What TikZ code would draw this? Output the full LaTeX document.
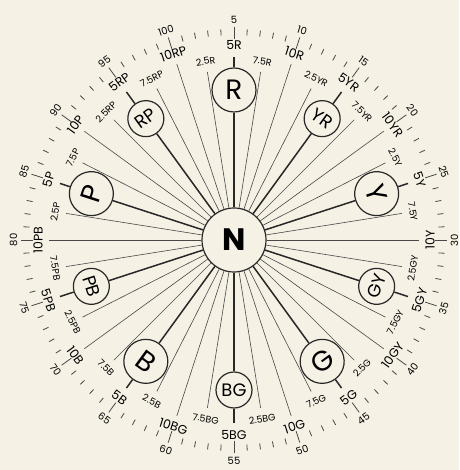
\documentclass[tikz,border=0pt]{standalone}
\usepackage{fontspec}
\setmainfont{Poppins}
\definecolor{paperCream}{RGB}{245,241,228}
\definecolor{inkGray}{RGB}{40,40,40}

\begin{document}
\begin{tikzpicture}[x=1pt, y=1pt,
    hue/.style={circle, draw=inkGray, fill=paperCream, line width=1.2pt,
      inner sep=0pt, minimum size=44pt, font=\fontsize{28}{28}\selectfont},
    huemid/.style={hue, minimum size=36pt, font=\fontsize{18}{18}\selectfont},
    spoke/.style={inkGray!85, line width=0.6pt},
    mainspoke/.style={inkGray, line width=1.5pt},
    scaletick/.style={inkGray!85, line width=0.8pt},
    steplabel/.style={font=\fontsize{9.5}{9.5}\selectfont, inner sep=0pt},
    majorlabel/.style={font=\fontsize{12.5}{12.5}\selectfont, inner sep=0pt},
    numlabel/.style={font=\fontsize{10}{10}\selectfont, inner sep=0pt},
  ]
  \useasboundingbox[fill=paperCream] (-234,-230) rectangle (225,240);

  % neutral centre
  \node[circle, draw=inkGray, fill=paperCream, line width=1.2pt, minimum size=64pt,
    font=\fontsize{31}{31}\selectfont\bfseries] (N) at (0,0) {N};

  % hues, spokes and hue labels
  \foreach \h/\s [count=\i from 0] in {R/hue, YR/huemid, Y/hue, GY/huemid, G/hue,
      BG/huemid, B/hue, PB/huemid, P/hue, RP/huemid} {
    \pgfmathsetmacro\ha{mod(450-36*\i,360)}
    \pgfmathsetmacro\hr{ifthenelse(and(\ha>0,\ha<=180),\ha-90,\ha+90)}
    \node[\s, rotate=\hr] (h\h) at (\ha:150) {\h};
    \coordinate (e\h) at (\ha:183);
    \draw[mainspoke] (N) -- (h\h);
    \draw[mainspoke] (h\h) -- (e\h);
    \node[majorlabel, rotate=\hr] (l\h) at (\ha:195) {5\h};
    \foreach \d/\v/\tag/\rr/\pp/\st in {9/2.5/a/170/181/steplabel,
        -9/7.5/b/170/181/steplabel, -18/10/c/185/196/majorlabel} {
      \pgfmathsetmacro\sa{mod(\ha+\d+360,360)}
      \pgfmathsetmacro\sr{ifthenelse(and(\sa>0,\sa<=180),\sa-90,\sa+90)}
      \coordinate (e\tag\h) at (\sa:\rr);
      \draw[spoke] (N) -- (e\tag\h);
      \node[\st, rotate=\sr] (l\tag\h) at (\sa:\pp) {\v\h};
    }
  }

  % outer scale 1..100
  \foreach \n in {1,...,100} {
    \pgfmathsetmacro\ta{mod(108-3.6*\n+720,360)}
    \pgfmathtruncatemacro\isfive{mod(\n,5)==0 ? 1 : 0}
    \ifnum\isfive=1
      \pgfmathsetmacro\tr{ifthenelse(and(\ta>0,\ta<=180),\ta-90,\ta+90)}
      \draw[scaletick] (\ta:201) -- (\ta:213);
      \node[numlabel, rotate=\tr] (n\n) at (\ta:220.5) {\n};
    \else
      \draw[scaletick] (\ta:205) -- (\ta:211);
    \fi
  }
\end{tikzpicture}
\end{document}
